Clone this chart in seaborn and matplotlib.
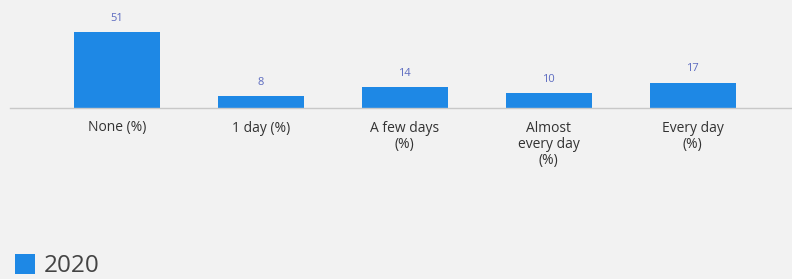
import seaborn as sns
import pandas as pd
import matplotlib.pyplot as plt

# data
categories = ['None (%)', '1 day (%)', 'A few days\n(%)', 'Almost\nevery day\n(%)', 'Every day\n(%)']
values = [51, 8, 14, 10, 17]
years = ['2020'] * len(values)

df = pd.DataFrame({'category': categories, 'value': values, 'year': years})

sns.set_style('white')
plt.rcParams['font.family'] = ['Open Sans', 'DejaVu Sans']

bg = '#f2f2f2'
fig = plt.figure(figsize=(7.92, 2.79), dpi=100, facecolor=bg)
ax = fig.add_axes([10 / 792, 171 / 279, 782 / 792, 108 / 279])
ax.set_facecolor(bg)

sns.barplot(data=df, x='category', y='value', hue='year', palette=['#1e88e5'],
            width=0.6, dodge=False, saturation=1, linewidth=0, ax=ax)

for c in ax.containers:
    ax.bar_label(c, padding=6, fontsize=8, color='#5c6bc0')

ax.set_xlim(-0.743, 4.69)
ax.set_ylim(0, 72.5)
ax.set_xlabel('')
ax.set_ylabel('')
ax.set_yticks([])
for s in ['top', 'right', 'left']:
    ax.spines[s].set_visible(False)
ax.spines['bottom'].set_color('#c8c8c8')
ax.spines['bottom'].set_linewidth(1)
ax.tick_params(axis='x', length=0, pad=9, labelsize=10, labelcolor='#333333')
for t in ax.get_xticklabels():
    t.set_linespacing(1.1)

sns.move_legend(ax, loc='lower left', bbox_to_anchor=(0.0, -0.05),
                bbox_transform=fig.transFigure, frameon=False, title=None,
                fontsize=17.5, handlelength=0.85, handleheight=0.85,
                handletextpad=0.35, borderaxespad=0.2)
for t in ax.get_legend().get_texts():
    t.set_color('#444444')

fig.savefig('out.png', dpi=100, facecolor=bg)
